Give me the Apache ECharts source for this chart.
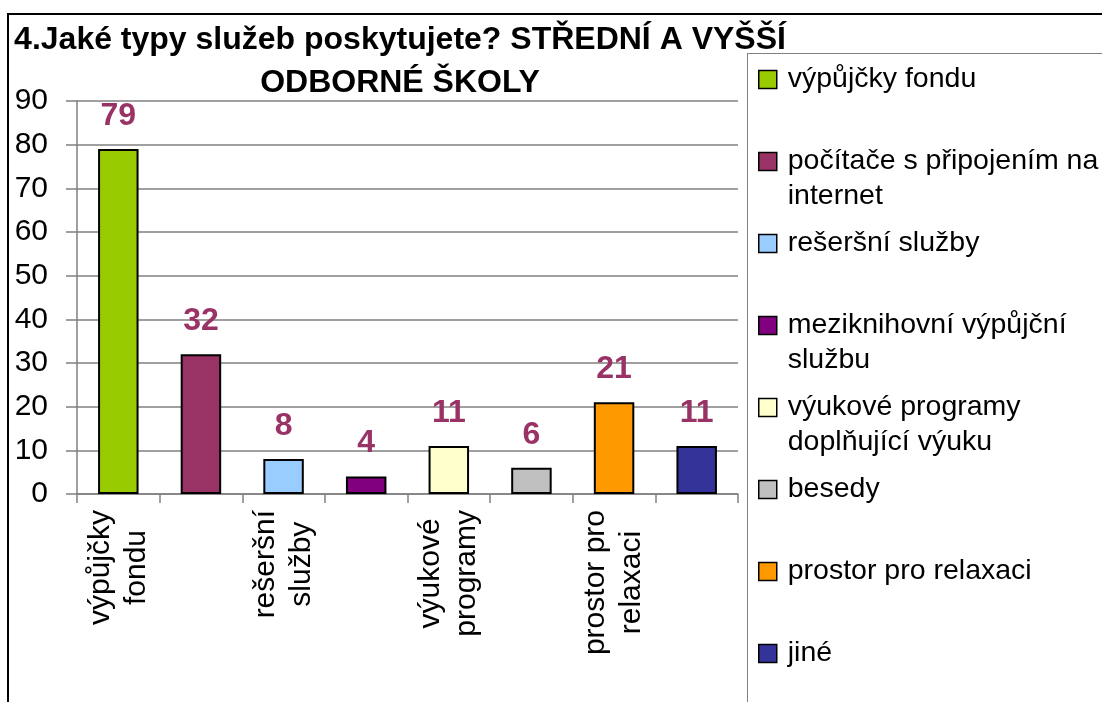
<!DOCTYPE html>
<html>
<head>
<meta charset="utf-8">
<title>4.Jaké typy služeb poskytujete?</title>
<script src="https://cdn.jsdelivr.net/npm/echarts@6.0.0/dist/echarts.min.js"></script>
<style>
    html, body { margin: 0; padding: 0; background: #ffffff; overflow: hidden; }
    #frame { position: absolute; left: 7px; top: 13px; width: 1200px; height: 800px;
             border-left: 2px solid #000; border-top: 2px solid #000; }
    #legendbox { position: absolute; left: 747px; top: 53px; width: 500px; height: 800px;
                 border-left: 1.5px solid #808080; border-top: 1.5px solid #808080; }
    #chart { position: absolute; left: 0; top: 0; width: 1102px; height: 702px; }
</style>
</head>
<body>
<div id="frame"></div>
<div id="legendbox"></div>
<div id="chart"></div>
<script>
// legend names (line breaks as in the picture)
var categories = [
    'výpůjčky fondu',
    'počítače s připojením na\ninternet',
    'rešeršní služby',
    'meziknihovní výpůjční\nslužbu',
    'výukové programy\ndoplňující výuku',
    'besedy',
    'prostor pro relaxaci',
    'jiné'
];
// x axis labels, only every second one is shown
var axisLabels = [
    'výpůjčky\nfondu',
    'počítače s\npřipojením',
    'rešeršní\nslužby',
    'meziknihovní\nvýpůjční',
    'výukové\nprogramy',
    'besedy',
    'prostor pro\nrelaxaci',
    'jiné'
];
var values = [79, 32, 8, 4, 11, 6, 21, 11];
var colors = ['#99CC00', '#993366', '#99CCFF', '#800080', '#FFFFCC', '#C0C0C0', '#FF9900', '#333399'];
var yTicks = { min: 0, max: 90, interval: 10 };

var fontFamily = "'Liberation Sans', Arial, sans-serif";
var myChart = echarts.init(document.getElementById('chart'));

function buildSeries(){
    var res = [];
    for (var i = 0; i < categories.length; i++) {
        var data = [];
        for (var j = 0; j < values.length; j++) {
            data.push(j === i ? values[j] : '-');
        }
        res.push({
            name: categories[i],
            type: 'bar',
            stack: 'all',
            barWidth: '49%',
            data: data,
            itemStyle: {
                color: colors[i],
                borderColor: '#000',
                borderWidth: 2
            },
            label: {
                show: true,
                position: 'top',
                distance: 17,
                formatter: '{c}',
                color: '#993366',
                fontFamily: fontFamily,
                fontWeight: 'bold',
                fontSize: 32
            },
            emphasis: { disabled: true }
        });
    }
    return res;
}

option = {
    animation: false,
    title: {
        text: '4.Jaké typy služeb poskytujete? STŘEDNÍ A VYŠŠÍ\nODBORNÉ ŠKOLY',
        left: 400,
        top: 19,
        padding: 0,
        textAlign: 'center',
        textStyle: {
            fontFamily: fontFamily,
            fontWeight: 'bold',
            fontSize: 32,
            lineHeight: 43,
            color: '#000'
        }
    },
    legend: {
        orient: 'vertical',
        left: 758,
        top: 27,
        height: 760,
        padding: 0,
        itemGap: -23,
        itemWidth: 18,
        itemHeight: 18,
        icon: 'rect',
        itemStyle: { borderColor: '#000', borderWidth: 1.5 },
        data: categories,
        formatter: function(name){
            var lines = name.split('\n');
            if (lines.length < 2) lines.push(' ');
            return '{p| }\n{t|' + lines[0] + '}\n{t|' + lines[1] + '}';
        },
        textStyle: {
            fontFamily: fontFamily,
            fontSize: 28.5,
            lineHeight: 35,
            color: '#000',
            padding: [0, 0, 0, 6],
            rich: {
                p: { fontSize: 28.5, lineHeight: 35 },
                t: { fontSize: 28.5, lineHeight: 35, color: '#000', fontFamily: fontFamily }
            }
        }
    },
    grid: {
        left: 77,
        right: 364,
        top: 101,
        bottom: 208,
        outerBoundsMode: 'none',
        containLabel: false
    },
    xAxis: {
        type: 'category',
        data: axisLabels,
        boundaryGap: true,
        axisLine: { show: true, lineStyle: { color: '#808080', width: 1.5 } },
        axisTick: { show: true, interval: 0, length: 9, alignWithLabel: false,
                    lineStyle: { color: '#808080', width: 1.5 } },
        axisLabel: {
            interval: 1,
            rotate: 90,
            margin: 16,
            formatter: function(v){
                return v.split('\n').map(function(s){ return '{a|' + s + '}'; }).join('\n');
            },
            rich: {
                a: { align: 'center', fontSize: 30, lineHeight: 36, color: '#000', fontFamily: fontFamily }
            },
            fontSize: 30,
            lineHeight: 36,
            color: '#000',
            fontFamily: fontFamily
        },
        splitLine: { show: false }
    },
    yAxis: {
        type: 'value',
        min: yTicks.min,
        max: yTicks.max,
        interval: yTicks.interval,
        axisLine: { show: true, lineStyle: { color: '#808080', width: 1.5 } },
        axisTick: { show: true, length: 11, lineStyle: { color: '#808080', width: 1.5 } },
        axisLabel: {
            margin: 29,
            fontSize: 30,
            color: '#000',
            fontFamily: fontFamily
        },
        splitLine: { show: true, lineStyle: { color: '#808080', width: 1.5 } }
    },
    series: buildSeries()
};

myChart.setOption(option);
window.onresize = myChart.resize;
</script>
</body>
</html>
